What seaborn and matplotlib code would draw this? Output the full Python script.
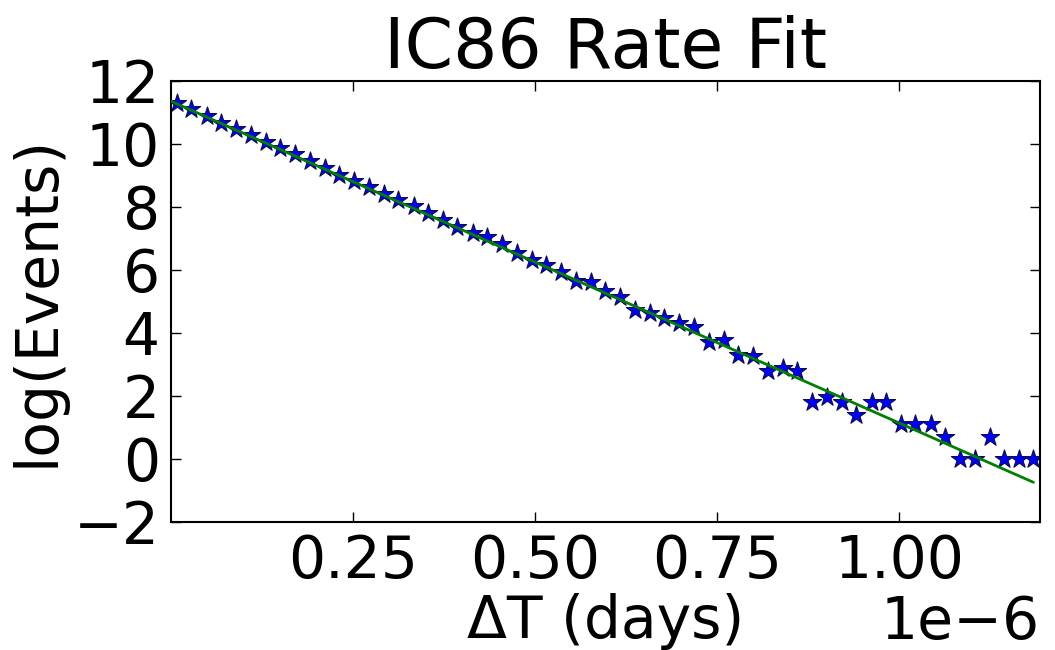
import numpy as np
import pandas as pd
import matplotlib
matplotlib.use("Agg")
import matplotlib.pyplot as plt
import seaborn as sns

# Data: Delta T bin positions (units of 1e-6 days) and log(Events)
delta_t = [0.008, 0.028, 0.049, 0.069, 0.089, 0.110, 0.130, 0.150, 0.170, 0.191,
           0.211, 0.231, 0.251, 0.272, 0.292, 0.312, 0.333, 0.353, 0.373, 0.393,
           0.414, 0.434, 0.454, 0.475, 0.495, 0.515, 0.535, 0.556, 0.576, 0.596,
           0.617, 0.637, 0.657, 0.677, 0.698, 0.718, 0.738, 0.759, 0.779, 0.799,
           0.819, 0.840, 0.860, 0.880, 0.901, 0.921, 0.941, 0.962, 0.982, 1.002,
           1.022, 1.043, 1.063, 1.083, 1.104, 1.124, 1.144, 1.164, 1.184]
log_events = [11.30, 11.09, 10.88, 10.66, 10.48, 10.27, 10.06, 9.85, 9.66, 9.45,
              9.24, 9.02, 8.81, 8.64, 8.41, 8.20, 8.01, 7.81, 7.58, 7.35,
              7.16, 7.04, 6.81, 6.53, 6.30, 6.15, 5.92, 5.64, 5.62, 5.34,
              5.12, 4.73, 4.64, 4.46, 4.31, 4.19, 3.69, 3.76, 3.30, 3.26,
              2.80, 2.89, 2.80, 1.79, 1.95, 1.79, 1.39, 1.79, 1.79, 1.10,
              1.10, 1.10, 0.69, 0.0, 0.0, 0.69, 0.0, 0.0, 0.0]
# Linear fit parameters (slope per 1e-6 days)
fit_intercept = 11.35
fit_slope = -10.22

xticks = [0.25, 0.50, 0.75, 1.00]
yticks = [-2, 0, 2, 4, 6, 8, 10, 12]

scale = 1e-6
df = pd.DataFrame({"dt": np.array(delta_t) * scale, "logev": log_events})
fit_x = np.array([0.0, max(delta_t)])
fit_df = pd.DataFrame({"dt": fit_x * scale, "logev": fit_intercept + fit_slope * fit_x})

sns.set_style("ticks")
plt.rcParams["font.family"] = ["DejaVu Sans"]
plt.rcParams["text.color"] = "black"
plt.rcParams["axes.labelcolor"] = "black"

fig = plt.figure(figsize=(10.55, 6.5), dpi=100)
ax = fig.add_axes([0.162, 0.1974, 0.9858 - 0.162, 0.8758 - 0.1974])

sns.scatterplot(data=df, x="dt", y="logev", marker="*", s=190, color=(0, 0, 1),
                edgecolor=(0.05, 0.05, 0.3), linewidth=0.8, ax=ax, zorder=2)
sns.lineplot(data=fit_df, x="dt", y="logev", color=(0, 0.5, 0), linewidth=2.0,
             ax=ax, zorder=3)

ax.set_xlim(0, 1.193e-6)
ax.set_ylim(-2, 12)
ax.set_xticks([t * scale for t in xticks])
ax.set_yticks(yticks)
ax.ticklabel_format(axis="x", style="sci", scilimits=(0, 0))
ax.xaxis.get_offset_text().set_fontsize(42)
ax.xaxis.get_offset_text().set_color("black")

ax.tick_params(direction="in", length=7, width=1, top=True, right=True,
               labelsize=42, pad=8, colors="black")
for sp in ax.spines.values():
    sp.set_linewidth(1.5)
    sp.set_color("black")
    sp.set_visible(True)

ax.set_xlabel("ΔT (days)", fontsize=42, labelpad=2, color="black")
ax.set_ylabel("log(Events)", fontsize=42, labelpad=6, color="black")
ax.set_title("IC86 Rate Fit", fontsize=50, pad=9, color="black")

fig.savefig("out.png", dpi=100)
